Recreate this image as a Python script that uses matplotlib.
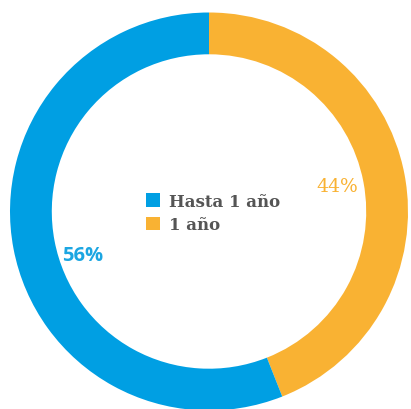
import matplotlib.pyplot as plt

labels = ['Hasta 1 año', '1 año']
shares = [56, 44]
pct_labels = ['56%', '44%']
colors = ['#009fe3', '#f9b233']

fig = plt.figure(figsize=(4.11, 4.10), dpi=100)
# ring centre at about (209, 212.5) px, outer radius 199 px
ax = fig.add_axes([10 / 411, -1.5 / 410, 398 / 411, 398 / 410])

# orange goes first from 12 o'clock clockwise, blue fills the rest
wedges, _ = ax.pie(shares[::-1], colors=colors[::-1], startangle=90,
                   counterclock=False, radius=1,
                   wedgeprops=dict(width=0.21, linewidth=0))
ax.set_xlim(-1, 1)
ax.set_ylim(-1, 1)
ax.set_aspect('equal')
ax.axis('off')

# percentage labels inside the ring
ax.text(-0.633, -0.218, pct_labels[0], color='#1ca6e2', fontsize=14.5,
        family='Open Sans', weight='bold', ha='center', va='center')
ax.text(0.646, 0.128, pct_labels[1], color='#f9b233', fontsize=13.5,
        family='DejaVu Serif', ha='center', va='center')

leg = ax.legend(wedges[::-1], labels, loc='center', bbox_to_anchor=(0.51, 0.496),
                frameon=False, handlelength=0.85, handleheight=0.85,
                handletextpad=0.55, labelspacing=0.4,
                prop=dict(family='DejaVu Serif', weight='bold', size=12))
for t in leg.get_texts():
    t.set_color('#555555')

fig.savefig('out.png', dpi=100)
